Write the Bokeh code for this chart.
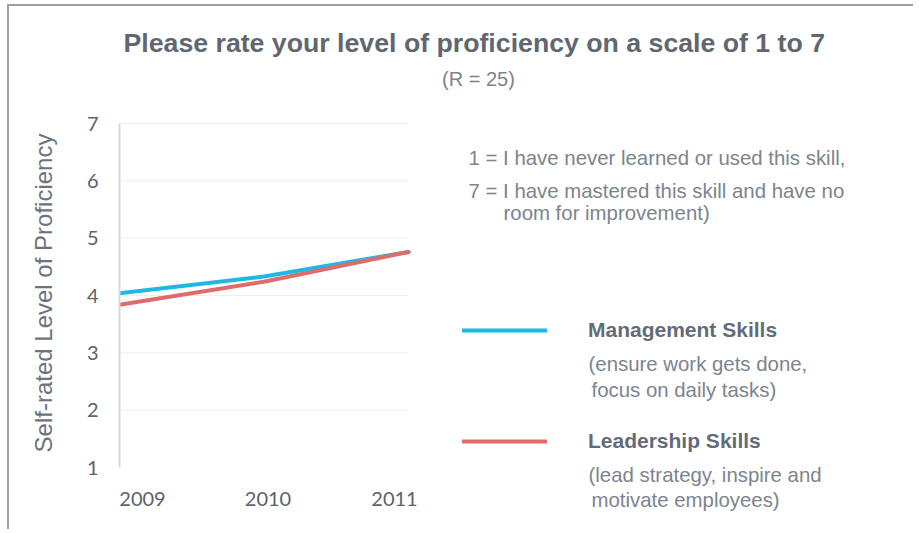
from bokeh.plotting import figure
from bokeh.models import FixedTicker, Range1d
from bokeh.core.properties import value
from bokeh.embed import file_html
from bokeh.resources import INLINE

# ---- data ----
years = [2009, 2010, 2011]
year_labels = ["2009", "2010", "2011"]
management = [4.04, 4.33, 4.76]
leadership = [3.84, 4.24, 4.76]
y_ticks = [1, 2, 3, 4, 5, 6, 7]
y_axis_title = "Self-rated Level of Proficiency"

title_text = "Please rate your level of proficiency on a scale of 1 to 7"
subtitle_text = "(R = 25)"
scale_notes = ["1 = I have never learned or used this skill,",
               "7 = I have mastered this skill and have no",
               "room for improvement)"]
series_names = ["Management Skills", "Leadership Skills"]
series_notes = ["(ensure work gets done,", "focus on daily tasks)",
                "(lead strategy, inspire and", "motivate employees)"]

# ---- styles / layout (page pixels) ----
BLUE = "#1DB9E4"
RED = "#E06B6B"
TITLE_C = "#5F6770"
TEXT_C = "#7C848D"
TICK_C = "#5B636B"
BORDER_C = "#9AA0A6"
FONT = "Liberation Sans"

CANVAS_X, CANVAS_Y, CANVAS_W, CANVAS_H = 9, 6, 906, 525
FR_L, FR_T, FR_R, FR_B = 119, 57, CANVAS_X + CANVAS_W, 528   # frame edges
AREA_L, AREA_R, AREA_T, AREA_B = 119, 408, 123, 467          # chart area

xs = (AREA_R - AREA_L) / (years[-1] - years[0])
ys = (AREA_B - AREA_T) / (y_ticks[-1] - y_ticks[0])
x_range = Range1d(years[0] - (AREA_L - FR_L) / xs, years[-1] + (FR_R - AREA_R) / xs)
y_range = Range1d(y_ticks[0] - (FR_B - AREA_B) / ys, y_ticks[-1] + (AREA_T - FR_T) / ys)

p = figure(width=CANVAS_W, height=CANVAS_H, output_backend="svg", toolbar_location=None,
           x_range=x_range, y_range=y_range, x_axis_location=None,
           min_border_left=FR_L - CANVAS_X, min_border_right=0,
           min_border_top=FR_T - CANVAS_Y,
           min_border_bottom=CANVAS_Y + CANVAS_H - FR_B,
           margin=(CANVAS_Y - 2, 0, 0, CANVAS_X - 2))
p.styles = {"border-top": f"2px solid {BORDER_C}", "border-left": f"2px solid {BORDER_C}"}
p.outline_line_color = None
p.grid.visible = False
p.extra_x_ranges = {"px": Range1d(FR_L, FR_R)}
p.extra_y_ranges = {"px": Range1d(FR_B, FR_T)}

# title
p.title.text = title_text
p.title.align = "left"
p.title.offset = 4
p.title.standoff = 0
p.title.text_font = FONT
p.title.text_font_style = "bold"
p.title.text_font_size = "26.7px"
p.title.text_color = TITLE_C

# y axis
ax = p.yaxis[0]
ax.bounds = (y_ticks[0], y_ticks[-1])
ax.ticker = FixedTicker(ticks=y_ticks)
ax.axis_line_color = "#D9D9D9"
ax.axis_line_width = 2
ax.major_tick_line_color = None
ax.minor_tick_line_color = None
ax.major_label_text_font = "Lato"
ax.major_label_text_font_size = "20px"
ax.major_label_text_color = TICK_C
ax.major_label_standoff = 15
ax.axis_label = y_axis_title
ax.axis_label_text_font = FONT
ax.axis_label_text_font_size = "24px"
ax.axis_label_text_font_style = "normal"
ax.axis_label_text_color = "#6B737C"
ax.axis_label_standoff = 27

# horizontal gridlines over the chart area only
gy = y_ticks[1:]
p.segment(x0=[years[0]] * len(gy), x1=[years[-1]] * len(gy), y0=gy, y1=gy,
          line_color="#EEEEEE", line_width=1)

# category labels under the chart
p.text(x=years, y=[y_ticks[0]] * len(years), text=year_labels,
       x_offset=[23, 4, -14], y_offset=31, text_align="center", text_baseline="middle",
       text_font=value("Lato"), text_font_size="20px", text_color=TICK_C)

# series
p.line(years, management, line_width=4, color=BLUE, line_cap="round",
       legend_label=series_names[0])
p.line(years, leadership, line_width=4, color=RED, line_cap="round",
       legend_label=series_names[1])

lg = p.legend[0]
lg.location = (462 - FR_L, FR_B - 455)
lg.padding = 0
lg.margin = 0
lg.spacing = 83
lg.glyph_width = 85
lg.glyph_height = 28
lg.label_height = 28
lg.label_standoff = 41
lg.border_line_color = None
lg.background_fill_alpha = 0
lg.label_text_font = FONT
lg.label_text_font_style = "bold"
lg.label_text_font_size = "21px"
lg.label_text_color = "#636C76"
lg.label_text_baseline = "middle"

# texts placed in page pixels
txt = dict(x_range_name="px", y_range_name="px", text_baseline="middle",
           text_font=value(FONT), text_color=TEXT_C)
p.text(x=[478], y=[78], text=[subtitle_text], text_align="center",
       text_font_size="20px", **txt)
p.text(x=[468, 468, 503], y=[157, 190, 212], text=scale_notes,
       text_font_size="20.4px", **txt)
p.text(x=[588, 591, 588, 591], y=[363, 389, 474, 499], text=series_notes,
       text_font_size="20.4px", **txt)

open("out.html", "w").write(file_html(p, INLINE))
